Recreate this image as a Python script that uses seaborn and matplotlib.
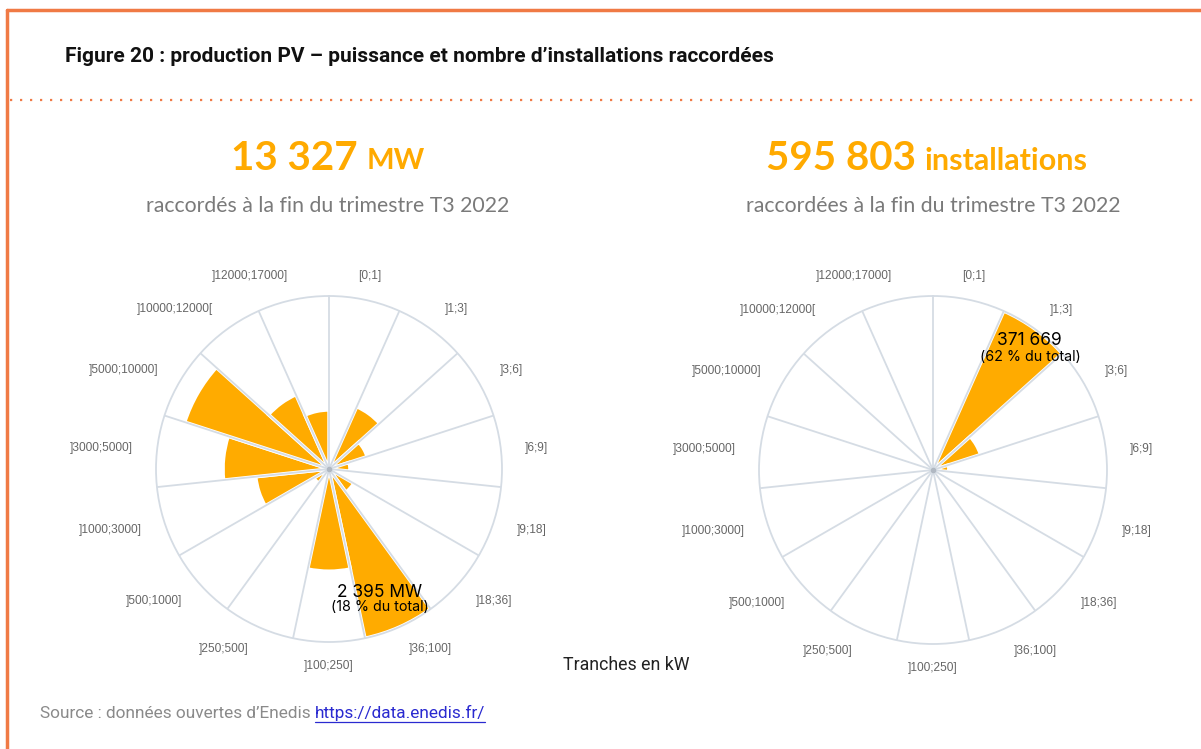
import numpy as np
import matplotlib
matplotlib.use("Agg")
import matplotlib.pyplot as plt
from matplotlib.lines import Line2D
import seaborn as sns

# Data
tranches = ["[0;1]", "]1;3]", "]3;6]", "]6;9]", "]9;18]", "]18;36]", "]36;100]",
            "]100;250]", "]250;500]", "]500;1000]", "]1000;3000]", "]3000;5000]",
            "]5000;10000]", "]10000;12000[", "]12000;17000]"]
puissance_mw = [0, 944, 555, 290, 0, 396, 2395, 1415, 0, 243, 1020, 1467, 2100, 1126, 817]
nb_installations = [0, 371669, 106800, 34000, 0, 0, 23000, 0, 0, 0, 0, 0, 0, 0, 0]

BAR_COLOR = "#FFAB00"
GRID_COLOR = "#D5DCE4"
ORANGE = "#F07A45"
HEAD_COLOR = "#FFAA00"

sns.set_theme(style="white")
plt.rcParams["font.family"] = ["DejaVu Sans"]

W, H = 1201, 749
fig = plt.figure(figsize=(W / 100, H / 100), dpi=100)


def px(x, y):
    return x / W, 1 - y / H


def rose(cx, cy, r, values):
    fx, fy = px(cx, cy)
    w, h = 2 * r / W, 2 * r / H
    ax = fig.add_axes([fx - w / 2, fy - h / 2, w, h], projection="polar")
    n = len(values)
    step = 2 * np.pi / n
    edges = np.arange(n) * step
    ax.set_theta_offset(np.pi / 2)
    ax.set_theta_direction(-1)
    ax.bar(edges, values, width=step, align="edge", color=BAR_COLOR,
           edgecolor="white", linewidth=2.5, zorder=2)
    rmax = max(values)
    ax.set_ylim(0, rmax)
    ax.set_yticks([])
    ax.set_xticks(edges)
    ax.set_xticklabels([])
    ax.grid(False)
    for a in edges:
        ax.plot([a, a], [0, rmax], color=GRID_COLOR, lw=1.3, zorder=3)
    ax.spines["polar"].set_color(GRID_COLOR)
    ax.spines["polar"].set_linewidth(1.3)
    ax.plot([0], [0], "o", color="#B0B8C2", ms=3, zorder=4)
    ax.tick_params(length=0)
    for i, lab in enumerate(tranches):
        c = edges[i] + step / 2
        deg = np.degrees(c)
        if deg < 15 or 165 <= deg <= 195:
            ha = "center"
        elif deg < 165:
            ha = "left"
        else:
            ha = "right"
        ax.text(c, rmax * 1.14, lab, ha=ha, va="center", fontsize=8.6,
                color="#666666", family="Liberation Sans", clip_on=False)
    return ax, rmax


axl, rl = rose(329, 469, 173, puissance_mw)
axr, rr = rose(933, 470, 174, nb_installations)

# annotations
axl.text(np.radians(157.5), rl * 0.77, "2 395 MW", ha="center", va="center",
         fontsize=12.5, color="black", family="Inter", zorder=5)
axl.text(np.radians(159.7), rl * 0.85, "(18 % du total)", ha="center", va="center",
         fontsize=10.3, color="black", family="Inter", zorder=5)
axr.text(np.radians(36.7), rr * 0.93, "371 669", ha="center", va="center",
         fontsize=12.5, color="black", family="Inter", zorder=5)
axr.text(np.radians(40.6), rr * 0.856, "(62 % du total)", ha="center", va="center",
         fontsize=10.3, color="black", family="Inter", zorder=5)

# frame
fig.add_artist(Line2D([px(7, 0)[0], 1], [px(0, 10)[1]] * 2, color=ORANGE, lw=2.5))
fig.add_artist(Line2D([px(7, 0)[0]] * 2, [px(0, 10)[1], 0], color=ORANGE, lw=2.5))
fig.add_artist(Line2D([px(10, 0)[0], px(1197, 0)[0]], [px(0, 100)[1]] * 2,
                      color=ORANGE, lw=1.6, linestyle=(0, (1, 3.5))))

fig.text(*px(65, 57), "Figure 20 : production PV – puissance et nombre d’installations raccordées",
         ha="left", va="center", fontsize=15, weight="bold", family="Roboto", color="#111111")

# headers
fig.text(*px(358, 158), "13 327", ha="right", va="center", fontsize=29,
         weight="bold", family="Lato", color=HEAD_COLOR)
fig.text(*px(367, 161), "MW", ha="left", va="center", fontsize=21,
         weight="bold", family="Lato", color=HEAD_COLOR)
fig.text(*px(328, 206), "raccordés à la fin du trimestre T3 2022", ha="center", va="center",
         fontsize=15.3, family="Lato", color="#7A7A7A")

fig.text(*px(916, 158), "595 803", ha="right", va="center", fontsize=29,
         weight="bold", family="Lato", color=HEAD_COLOR)
fig.text(*px(925, 161), "installations", ha="left", va="center", fontsize=22,
         weight="bold", family="Lato", color=HEAD_COLOR)
fig.text(*px(933, 206), "raccordées à la fin du trimestre T3 2022", ha="center", va="center",
         fontsize=15.3, family="Lato", color="#7A7A7A")

fig.text(*px(626, 665), "Tranches en kW", ha="center", va="center", fontsize=12.8,
         family="Roboto", color="#222222")

# source line
src = fig.text(*px(40, 713), "Source : données ouvertes d’Enedis ", ha="left", va="center",
               fontsize=12.4, family="Roboto", color="#8A8A8A")
fig.canvas.draw()
bb = src.get_window_extent()
link = fig.text(bb.x1 / W, px(0, 713)[1], "https://data.enedis.fr/", ha="left", va="center",
                fontsize=12.4, family="Roboto", color="#2A2AD0")
fig.canvas.draw()
lb = link.get_window_extent()
fig.add_artist(Line2D([lb.x0 / W, lb.x1 / W], [(lb.y0 - 1) / H] * 2, color="#2A2AD0", lw=0.9))

fig.savefig("out.png", dpi=100, facecolor="white")
